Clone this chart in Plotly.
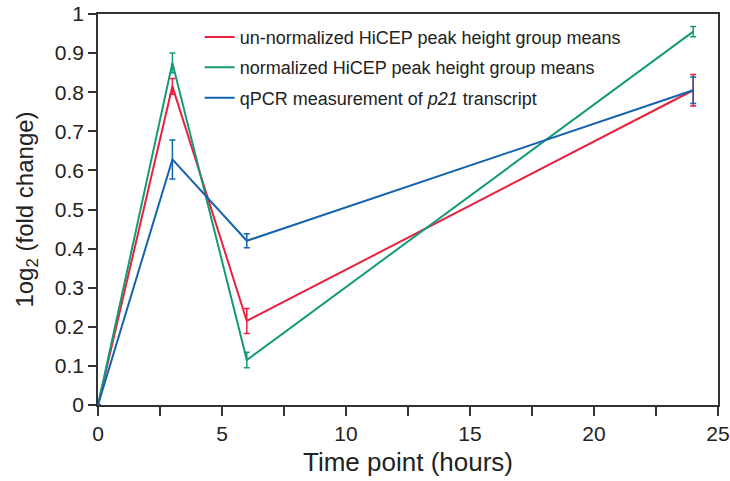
import plotly.graph_objects as go

time_h = [0, 3, 6, 24]

unnorm_vals = [0, 0.815, 0.215, 0.805]
unnorm_err = [0, 0.02, 0.032, 0.04]

norm_vals = [0, 0.875, 0.115, 0.955]
norm_err = [0, 0.025, 0.02, 0.013]

qpcr_vals = [0, 0.628, 0.42, 0.805]
qpcr_err = [0, 0.05, 0.018, 0.034]

series_names = [
    "un-normalized HiCEP peak height group means",
    "normalized HiCEP peak height group means",
    "qPCR measurement of <i>p21</i> transcript",
]
colors = ["#e8213f", "#149b76", "#1462b0"]

x_tickvals = [0, 2.5, 5, 7.5, 10, 12.5, 15, 17.5, 20, 22.5, 25]
x_ticktext = ["0", "", "5", "", "10", "", "15", "", "20", "", "25"]
y_tickvals = [0, 0.1, 0.2, 0.3, 0.4, 0.5, 0.6, 0.7, 0.8, 0.9, 1]
y_ticktext = ["0", "0.1", "0.2", "0.3", "0.4", "0.5", "0.6", "0.7", "0.8", "0.9", "1"]

fig = go.Figure()
for i, (name, vals, errs, col) in enumerate([
    (series_names[0], unnorm_vals, unnorm_err, colors[0]),
    (series_names[1], norm_vals, norm_err, colors[1]),
    (series_names[2], qpcr_vals, qpcr_err, colors[2]),
]):
    fig.add_trace(go.Scatter(
        x=time_h, y=vals, name=name, mode="lines", legendgroup=f"g{i}",
        line=dict(color=col, width=2),
        error_y=dict(type="data", array=errs, visible=True, color=col, thickness=1.5, width=3),
    ))

font_family = "Liberation Sans, Arial, sans-serif"
fig.update_layout(
    width=730, height=481,
    margin=dict(l=98, r=12, t=14, b=76),
    paper_bgcolor="white", plot_bgcolor="white",
    font=dict(family=font_family, color="#222222"),
    showlegend=True,
    legend=dict(
        x=0.164, y=0.988, xanchor="left", yanchor="top",
        bgcolor="rgba(0,0,0,0)", font=dict(size=18, color="#222222"),
        itemwidth=30, traceorder="grouped", tracegroupgap=4,
    ),
    xaxis=dict(
        range=[0, 25], tickvals=x_tickvals, ticktext=x_ticktext, automargin=False,
        ticks="outside", ticklen=9, tickwidth=1.5, tickcolor="#333333",
        showline=True, linecolor="#333333", linewidth=1.5, mirror=True,
        showgrid=False, zeroline=False,
        tickfont=dict(size=21), title=dict(text="Time point (hours)", font=dict(size=26), standoff=9),
    ),
    yaxis=dict(
        range=[0, 1], tickvals=y_tickvals, ticktext=y_ticktext, automargin=False,
        ticks="outside", ticklen=8, tickwidth=1.5, tickcolor="#333333",
        showline=True, linecolor="#333333", linewidth=1.5, mirror=True,
        showgrid=False, zeroline=False,
        tickfont=dict(size=21), title=dict(text="1og<sub>2</sub> (fold change)", font=dict(size=24), standoff=14),
    ),
)

# remove the default 8px body margin so the 730x481 figure fills the window
fig.write_html(
    "out.html",
    config={"displayModeBar": False},
    post_script="document.body.style.margin='0';document.body.style.overflow='hidden';",
)
